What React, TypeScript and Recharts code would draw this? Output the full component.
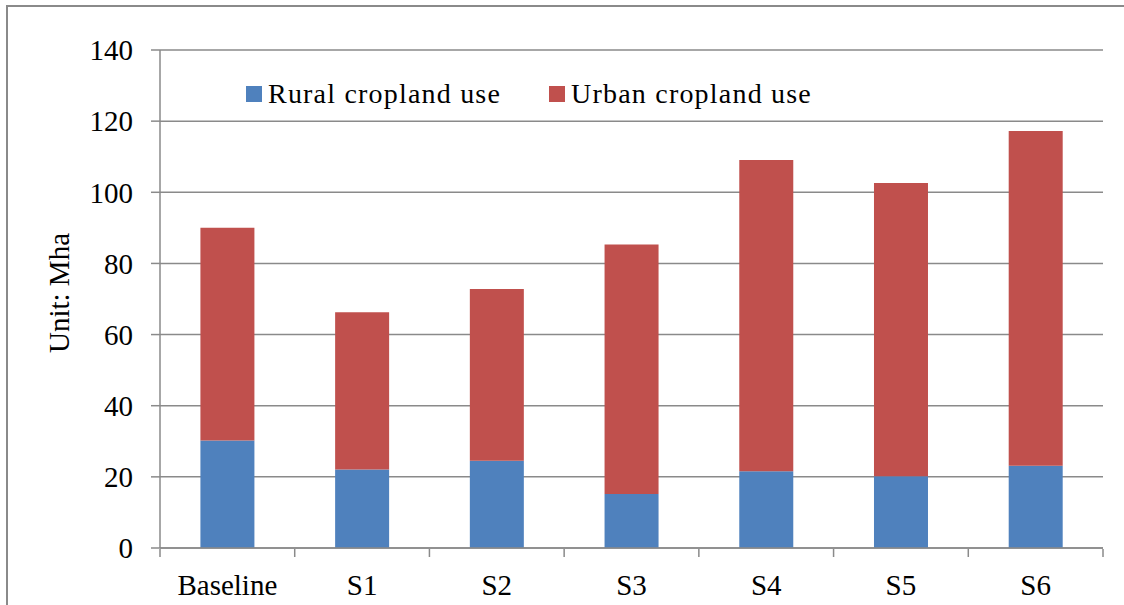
import React from 'react';
import { BarChart, Bar, XAxis, YAxis, CartesianGrid, Legend } from 'recharts';

const categories = ['Baseline', 'S1', 'S2', 'S3', 'S4', 'S5', 'S6'];
const rural = [30.2, 22.1, 24.5, 15.2, 21.6, 20.2, 23.1];
const urban = [59.8, 44.2, 48.3, 70.1, 87.5, 82.4, 94.1];
const yTicks = [0, 20, 40, 60, 80, 100, 120, 140];
const edgeTicks = [0, 1, 2, 3, 4, 5, 6, 7];

const data = categories.map((name, i) => ({ name, idx: i + 0.5, rural: rural[i], urban: urban[i] }));

const FONT = '"Liberation Serif", "Times New Roman", serif';
const GRID = '#8a8a8a';

const LegendBox = (props: any) => {
  const items = props.payload || [];
  return (
    <div style={{ display: 'flex', alignItems: 'center', fontFamily: FONT }}>
      {items.map((it: any, i: number) => (
        <div key={i} style={{ display: 'flex', alignItems: 'center', marginRight: i === 0 ? 48 : 0 }}>
          <span style={{ width: 16, height: 16, background: it.color, display: 'inline-block', marginRight: 6 }} />
          <span style={{ fontSize: 28, letterSpacing: 1.2, color: '#000', lineHeight: '28px' }}>{it.value}</span>
        </div>
      ))}
    </div>
  );
};

const YLabel = (props: any) => {
  const vb = props.viewBox || {};
  const x = vb.x + 69;
  const y = vb.y + vb.height / 2 - 6;
  return (
    <text x={x} y={y} transform={`rotate(-90 ${x} ${y})`} textAnchor="middle" fontFamily={FONT} fontSize={29} fill="#000">
      Unit: Mha
    </text>
  );
};

// boundary ticks only: draw nothing for the label
const NoLabel = () => <g />;

export default function App() {
  return (
    <div style={{ position: 'absolute', left: 0, top: 0, width: 1124, height: 605, background: '#fff', overflow: 'hidden' }}>
      <div
        style={{
          position: 'absolute',
          left: 6,
          top: 5,
          width: 1130,
          height: 610,
          borderLeft: `2px solid ${GRID}`,
          borderTop: `2px solid ${GRID}`,
        }}
      />
      <BarChart
        width={1124}
        height={605}
        data={data}
        margin={{ top: 50, right: 21, bottom: 0, left: 0 }}
        barCategoryGap="30%"
        style={{ position: 'absolute', left: 0, top: 0, fontFamily: FONT }}
      >
        <CartesianGrid vertical={false} stroke={GRID} strokeWidth={1.5} />
        <XAxis
          dataKey="name"
          height={1}
          axisLine={{ stroke: GRID, strokeWidth: 1.5 }}
          tickLine={false}
          tickSize={6}
          tickMargin={20}
          interval={0}
          tick={{ fontSize: 29, fill: '#000', fontFamily: FONT }}
        />
        <XAxis
          xAxisId="edge"
          dataKey="idx"
          type="number"
          domain={[0, 7]}
          allowDataOverflow
          ticks={edgeTicks}
          interval={0}
          height={56}
          axisLine={false}
          tickLine={{ stroke: GRID, strokeWidth: 1.5 }}
          tickSize={8}
          tick={NoLabel}
        />
        <YAxis
          width={160}
          domain={[0, 140]}
          ticks={yTicks}
          interval={0}
          axisLine={{ stroke: GRID, strokeWidth: 1.5 }}
          tickLine={{ stroke: GRID, strokeWidth: 1.5 }}
          tickSize={9}
          tickMargin={18}
          tick={{ fontSize: 29, fill: '#000', fontFamily: FONT }}
          label={{ content: YLabel }}
        />
        <Legend
          layout="horizontal"
          verticalAlign="middle"
          align="center"
          content={LegendBox}
          wrapperStyle={{ position: 'absolute', top: 80, left: 246, width: 'auto' }}
        />
        <Bar dataKey="rural" name="Rural cropland use" stackId="a" fill="#4F81BD" isAnimationActive={false} />
        <Bar dataKey="urban" name="Urban cropland use" stackId="a" fill="#C0504D" isAnimationActive={false} />
      </BarChart>
    </div>
  );
}
